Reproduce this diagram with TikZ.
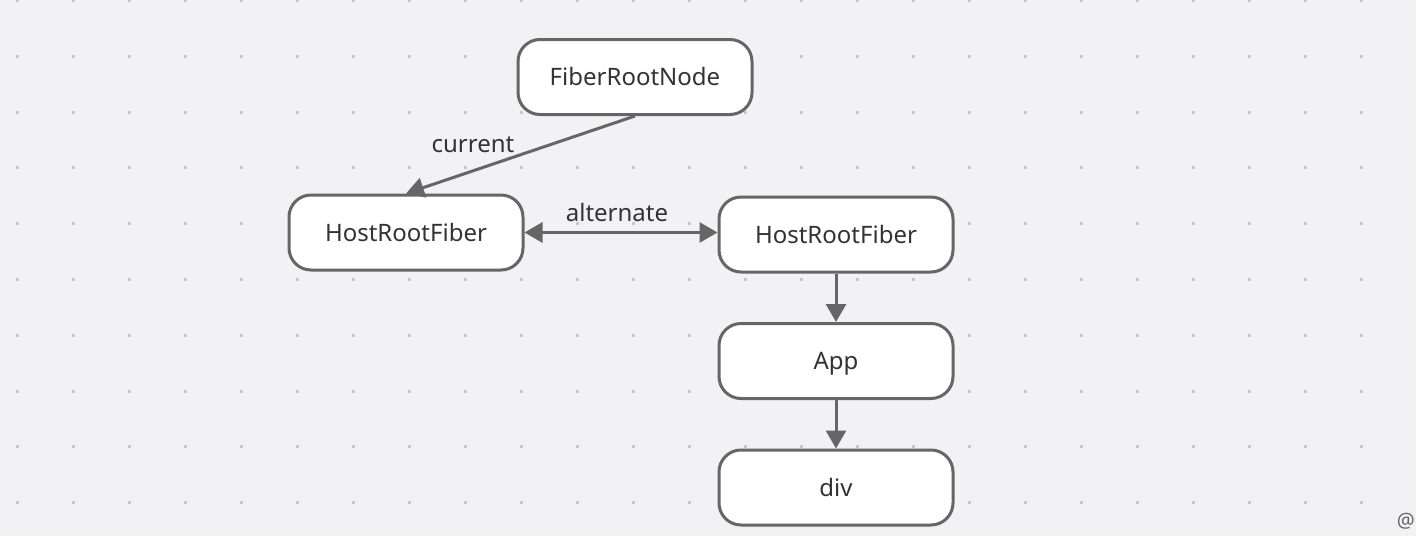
\documentclass[tikz,border=0pt]{standalone}
\usepackage{fontspec}
\setmainfont{Noto Sans}
\usetikzlibrary{arrows.meta}
\definecolor{bgc}{HTML}{F2F2F4}
\definecolor{dotc}{HTML}{C8C8CA}
\definecolor{edgec}{HTML}{666666}
\definecolor{txtc}{HTML}{333333}
\tikzset{
  box/.style={draw=edgec, line width=3pt, fill=white, rounded corners=22pt,
    minimum width=234pt, minimum height=75pt, inner sep=0pt,
    text height=17pt, text depth=0pt,
    text=txtc, font=\fontsize{24}{28}\selectfont},
  conn/.style={draw=edgec, line width=3pt, -{Triangle[length=18pt,width=20pt]}},
  biconn/.style={draw=edgec, line width=3pt, {Triangle[length=18pt,width=20pt]}-{Triangle[length=18pt,width=20pt]}},
  lbl/.style={text=txtc, font=\fontsize{24}{28}\selectfont, inner sep=0pt}
}
\begin{document}
\begin{tikzpicture}[x=1pt,y=-1pt]
\useasboundingbox (0,0) rectangle (1416,536);
\fill[bgc] (0,0) rectangle (1416,536);
\foreach \i in {0,...,25}{
  \foreach \j in {0,...,9}{
    \fill[dotc] ({17+56*\i-1.5},{0.5+55.8*\j-1.5}) rectangle ++(3,3);
  }
}
\node[box] (frn) at (635,77) {FiberRootNode};
\node[box] (hrf1) at (406,232.5) {HostRootFiber};
\node[box] (hrf2) at (836,234.5) {HostRootFiber};
\node[box] (app) at (836,361) {App};
\node[box] (dv) at (836,487.5) {div};
\draw[conn] (frn.south) -- (hrf1.north);
\draw[biconn] (hrf1.east) -- (hrf1.east -| hrf2.west);
\draw[conn] (hrf2.south) -- (app.north);
\draw[conn] (app.south) -- (dv.north);
\node[lbl] (lcur) at (473,145) {current};
\node[lbl] (lalt) at (617,212) {alternate};
\node[text=edgec, font=\fontsize{20}{24}\selectfont, anchor=east, inner sep=0pt] (wm) at (1415,521) {@};
\end{tikzpicture}
\end{document}
